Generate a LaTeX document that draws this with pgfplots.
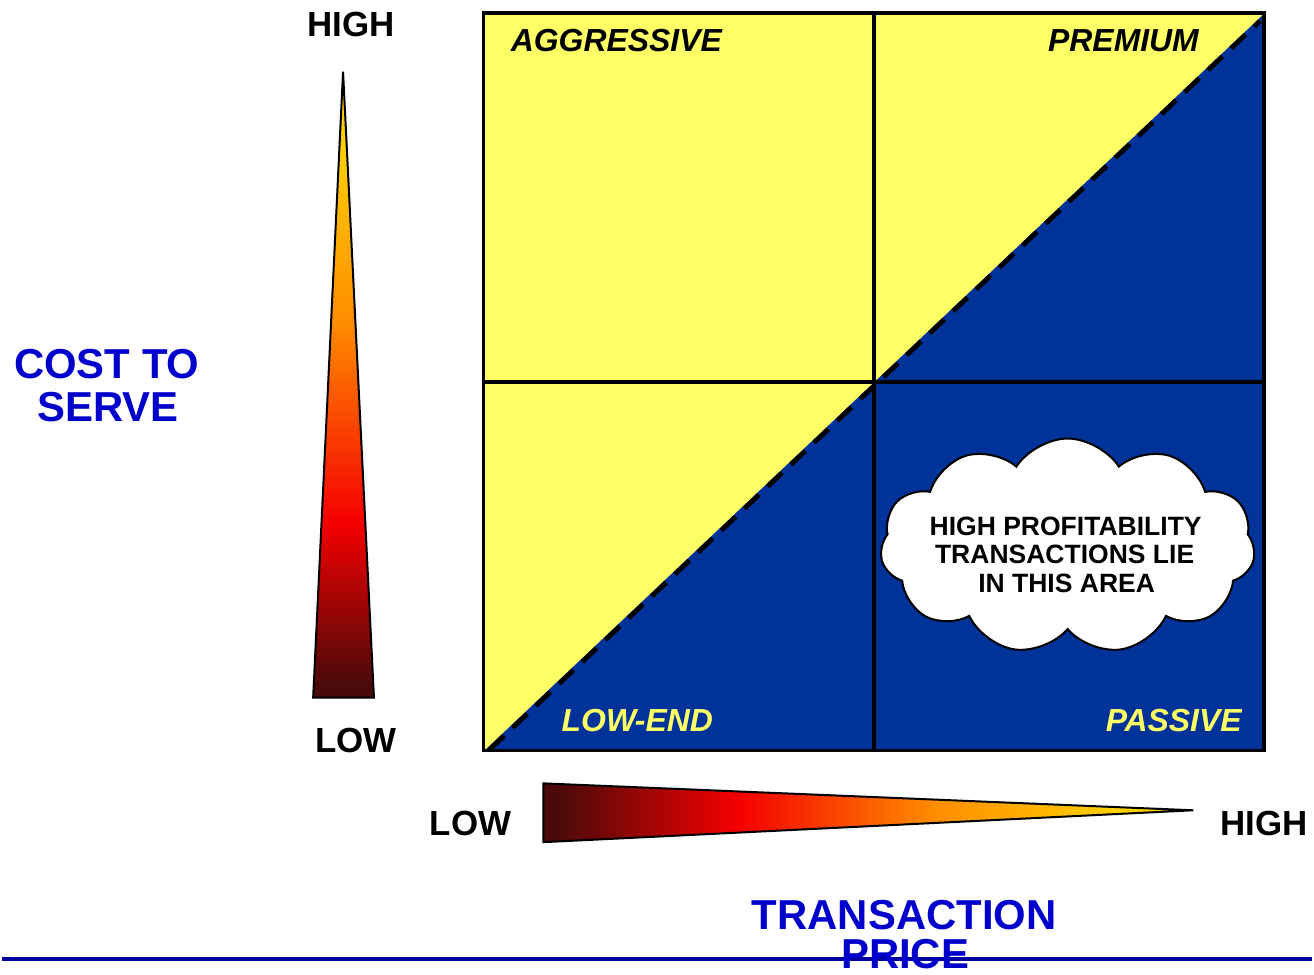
\documentclass[border=0pt]{standalone}
\usepackage{pgfplots}
\pgfplotsset{compat=1.18}
\usepackage{fontspec}
\setmainfont{Liberation Sans}
\usetikzlibrary{shapes.symbols}
\definecolor{quadyellow}{HTML}{FFFF66}
\definecolor{quadblue}{HTML}{003399}
\definecolor{titleblue}{HTML}{0000CC}
\definecolor{lineblue}{HTML}{0000A0}
\definecolor{gdark}{HTML}{4A0A0A}
\definecolor{gred}{HTML}{F50000}
\definecolor{gorange}{HTML}{FF8C00}
\definecolor{gyellow}{HTML}{FFD000}
\pgfdeclarehorizontalshading{hramp}{100bp}{color(0bp)=(gdark); color(26bp)=(gdark); color(40bp)=(gred); color(55bp)=(gorange); color(69bp)=(gyellow); color(100bp)=(gyellow)}
\pgfdeclareverticalshading{vramp}{100bp}{color(0bp)=(gdark); color(26bp)=(gdark); color(39bp)=(gred); color(55bp)=(gorange); color(69bp)=(gyellow); color(100bp)=(gyellow)}
\newcommand{\fs}[1]{\fontsize{#1}{#1}\selectfont\bfseries}
\begin{document}
\begin{tikzpicture}
\begin{axis}[
  width=657pt, height=489pt, scale only axis,
  xmin=0, xmax=1314, ymin=0, ymax=978, y dir=reverse,
  hide axis, clip=false,
]
\path (axis cs:0,0) rectangle (axis cs:1314,978);
% quadrant fills
\addplot[fill=quadyellow, draw=none] coordinates {(483,13) (1266,13) (1266,753) (483,753)} -- cycle;
\addplot[fill=quadblue, draw=none] coordinates {(484,753) (1266,14) (1266,753)} -- cycle;
% diagonal dashed
\addplot[black, line width=2.4pt, dash pattern=on 10pt off 6pt] coordinates {(489,752) (1262,21)};
% mid lines
\addplot[black, line width=2pt] coordinates {(875,13) (875,753)};
\addplot[black, line width=2pt] coordinates {(483,383) (1266,383)};
% box
\addplot[black, line width=1.6pt] coordinates {(483,13) (1266,13) (1266,753) (483,753)} -- cycle;
% quadrant labels
\node[anchor=base west, inner sep=0pt] at (axis cs:510,52) {\fs{16}\itshape AGGRESSIVE};
\node[anchor=base east, inner sep=0pt] at (axis cs:1201,52) {\fs{16}\itshape PREMIUM};
\node[anchor=base west, inner sep=0pt, text=quadyellow] at (axis cs:561,734) {\fs{16}\itshape LOW-END};
\node[anchor=base east, inner sep=0pt, text=quadyellow] at (axis cs:1244,734) {\fs{16}\itshape PASSIVE};
% cloud
\node[cloud, cloud puffs=11, cloud puff arc=115, aspect=1.8, draw=black, line width=1pt, fill=white,
      minimum width=188pt, minimum height=108pt, inner sep=0pt] at (axis cs:1069,548) {};
\node[anchor=base, inner sep=0pt] at (axis cs:1067,537) {\fs{13.3}HIGH PROFITABILITY};
\node[anchor=base, inner sep=0pt] at (axis cs:1066,565) {\fs{13.3}TRANSACTIONS LIE};
\node[anchor=base, inner sep=0pt] at (axis cs:1068,594) {\fs{13.3}IN THIS AREA};
% vertical gradient triangle
\addplot[shading=vramp, draw=black, line width=1pt] coordinates {(342,72) (373,700) (312,700)} -- cycle;
\node[anchor=base, inner sep=0pt] at (axis cs:350,37) {\fs{17.5}HIGH};
\node[anchor=base, inner sep=0pt] at (axis cs:355,755) {\fs{17.5}LOW};
% horizontal gradient triangle
\addplot[shading=hramp, draw=black, line width=1pt] coordinates {(543,786) (1195,813) (543,845)} -- cycle;
\node[anchor=base, inner sep=0pt] at (axis cs:470,838) {\fs{17.5}LOW};
\node[anchor=base, inner sep=0pt] at (axis cs:1266,838) {\fs{17.5}HIGH};
% axis titles
\node[anchor=base, inner sep=0pt, text=titleblue] at (axis cs:105,380) {\fs{21}COST TO};
\node[anchor=base, inner sep=0pt, text=titleblue] at (axis cs:106,423) {\fs{21}SERVE};
% bottom rule
\addplot[lineblue, line width=2.2pt] coordinates {(0,962) (1314,962)};
\node[anchor=base, inner sep=0pt, text=titleblue] at (axis cs:905,933) {\fs{21}TRANSACTION};
\node[anchor=base, inner sep=0pt, text=titleblue] at (axis cs:906,972) {\fs{21}PRICE};
\end{axis}
\end{tikzpicture}
\end{document}
